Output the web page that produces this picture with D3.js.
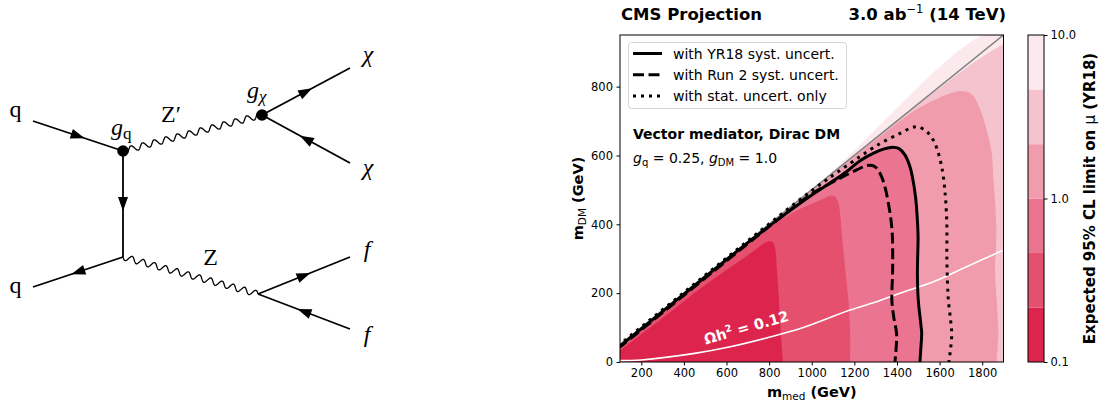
<!DOCTYPE html>
<html lang="en">
<head>
<meta charset="UTF-8">
<title>Mono-Z dark matter: diagram and HL-LHC projection</title>
<script src="https://cdnjs.cloudflare.com/ajax/libs/d3/7.8.5/d3.min.js"></script>
<style>
  body { margin: 0; background: #fff; }
  svg text { font-family: "DejaVu Sans", sans-serif; }
  .feyn text { font-family: "Liberation Serif", "DejaVu Serif", serif; }
</style>
</head>
<body>
<script>
// ---------- data (GeV) ----------
const xTicks = [200, 400, 600, 800, 1000, 1200, 1400, 1600, 1800];
const yTicks = [0, 200, 400, 600, 800];
const muLevels = [0.1, 0.215, 0.464, 1, 2.15, 4.64, 10];
const bandColors = ["#dc244c", "#e4506d", "#eb7590", "#f09cad", "#f5c3cd", "#fbe9ed"];
const cbTicks = [0.1, 1, 10];

// upper/right edge of each region mu < level (walks from the diagonal down to the x axis)
const edgeMu0215 = [[90,28],[100,33],[300,128],[500,224],[700,310],[770,342],[795,350],[815,349],[828,330],[836,270],[845,190],[851,122],[860,40],[864,0],[866,-40]];
const edgeMu0464 = [[90,38],[100,42],[400,191],[700,343],[820,398],[930,440],[1040,470],[1090,483],[1112,479],[1126,460],[1135,420],[1141,374],[1156,277],[1172,180],[1180,84],[1180,0],[1180,-40]];
const edgeMu215 = [[90,43],[100,47],[800,397],[1200,595],[1414,700],[1500,737],[1571,760],[1640,778],[1704,787],[1751,778],[1790,734],[1821,674],[1845,606],[1852,538],[1860,470],[1866,400],[1865,330],[1860,277],[1864,220],[1868,180],[1876,83],[1872,40],[1868,0],[1868,-40]];
const edgeMu464 = [[90,44],[100,48.5],[1000,498],[1400,697],[1600,796],[1750,866],[1900,924],[1920,930],[1920,-40]];
const edgeMu10 = [[90,46],[1000,501],[1920,961],[1920,-40]];

// expected mu = 1 contours
const yr18Line = [[90,43],[100,47],[400,197],[700,347],[850,418],[1007,488],[1148,546],[1227,585],[1288,606],[1340,619],[1380,624],[1410,620],[1438,601],[1461,567],[1475,529],[1487,480],[1495,420],[1499,364],[1497,300],[1496,250],[1500,180],[1512,110],[1516,84],[1512,40],[1508,0],[1507,-40]];
const run2Line = [[90,40],[100,44],[400,194],[700,344],[850,418],[1000,488],[1133,534],[1211,558],[1260,571],[1285,571],[1305,563],[1328,538],[1345,505],[1360,460],[1372,412],[1378,370],[1380,300],[1379,250],[1376,180],[1385,130],[1398,83],[1396,40],[1391,0],[1390,-40]];
const statLine = [[90,47],[100,52],[400,202],[700,352],[1000,498],[1180,577],[1270,615],[1336,640],[1414,664],[1470,681],[1500,683],[1540,669],[1570,645],[1587,621],[1610,567],[1626,490],[1634,400],[1634,300],[1638,220],[1641,180],[1652,120],[1657,83],[1652,40],[1644,0],[1643,-40]];

const relicLine = [[100,4],[200,6],[450,25],[600,42],[800,72],[950,98],[1180,151],[1300,174],[1414,200],[1571,233],[1727,277],[1900,325]];
const diagonal = [[100,50],[1900,950]];

// ---------- layout ----------
const W = 1102, H = 403;
const P = { left: 620, right: 1003.5, top: 35, bottom: 362 };

const svg = d3.select("body").append("svg")
  .attr("width", W).attr("height", H)
  .attr("viewBox", [0, 0, W, H]);

// ===== Feynman diagram =====
const fd = {
  qIn: [33, 121], v1: [123, 151], v3: [123, 257], qOut: [33, 287],
  v2: [262, 115], chiOut: [350, 68], chiIn: [350, 163],
  v4: [258, 294], fOut: [350, 257], fIn: [350, 329]
};
// fermion lines: [from, to] in the direction of the arrow
const fermions = [
  [fd.qIn, fd.v1], [fd.v1, fd.v3], [fd.v3, fd.qOut],
  [fd.v2, fd.chiOut], [fd.chiIn, fd.v2],
  [fd.v4, fd.fOut], [fd.fIn, fd.v4]
];
const bosons = [[fd.v1, fd.v2], [fd.v3, fd.v4]];

const feyn = svg.append("g").attr("class", "feyn");

feyn.selectAll("line.ferm").data(fermions).join("line")
  .attr("class", "ferm")
  .attr("x1", d => d[0][0]).attr("y1", d => d[0][1])
  .attr("x2", d => d[1][0]).attr("y2", d => d[1][1])
  .attr("stroke", "#000").attr("stroke-width", 1.8);

feyn.selectAll("path.arrow").data(fermions).join("path")
  .attr("class", "arrow")
  .attr("transform", d => {
    const mx = (d[0][0] + d[1][0]) / 2, my = (d[0][1] + d[1][1]) / 2;
    const ang = Math.atan2(d[1][1] - d[0][1], d[1][0] - d[0][0]) * 180 / Math.PI;
    return `translate(${mx},${my}) rotate(${ang})`;
  })
  .attr("d", "M7,0L-7,-5L-7,5Z")
  .attr("fill", "#000");

function wavy(p0, p1, wl, amp) {
  const dx = p1[0] - p0[0], dy = p1[1] - p0[1], L = Math.hypot(dx, dy);
  const n = Math.round(L / wl), nx = -dy / L, ny = dx / L;
  const pts = d3.range(0, n * 20 + 1).map(i => {
    const t = i / (n * 20), s = Math.sin(t * n * 2 * Math.PI) * amp;
    return [p0[0] + dx * t + nx * s, p0[1] + dy * t + ny * s];
  });
  return d3.line()(pts);
}
feyn.selectAll("path.boson").data(bosons).join("path")
  .attr("class", "boson")
  .attr("d", d => wavy(d[0], d[1], 12, 3))
  .attr("fill", "none").attr("stroke", "#000").attr("stroke-width", 1.3);

feyn.selectAll("circle").data([fd.v1, fd.v2]).join("circle")
  .attr("cx", d => d[0]).attr("cy", d => d[1]).attr("r", 5.8).attr("fill", "#000");

const feynLabels = [
  { t: "q", x: 15.5, y: 117, it: false },
  { t: "q", x: 15.5, y: 293, it: false },
  { t: "Z\u2032", x: 171, y: 122, it: false },
  { t: "Z", x: 210.5, y: 265, it: false },
  { t: "\u03c7", x: 368, y: 62, it: true },
  { t: "\u03c7", x: 368, y: 175, it: true },
  { t: "f", x: 367, y: 257, it: true },
  { t: "f", x: 367, y: 342, it: true }
];
feyn.selectAll("text.lab").data(feynLabels).join("text")
  .attr("class", "lab")
  .attr("x", d => d.x).attr("y", d => d.y)
  .attr("text-anchor", "middle")
  .attr("font-size", 24)
  .attr("font-style", d => d.it ? "italic" : "normal")
  .text(d => d.t);

const gq = feyn.append("text").attr("x", 111).attr("y", 135).attr("font-size", 24);
gq.append("tspan").attr("font-style", "italic").text("g");
gq.append("tspan").attr("font-size", 17).attr("dy", 4).text("q");
const gx = feyn.append("text").attr("x", 247).attr("y", 98).attr("font-size", 24);
gx.append("tspan").attr("font-style", "italic").text("g");
gx.append("tspan").attr("font-size", 17).attr("dy", 4).attr("font-style", "italic").text("\u03c7");

// ===== contour plot =====
const x = d3.scaleLinear().domain([100, 1900]).range([P.left, P.right]);
const y = d3.scaleLinear().domain([0, 950]).range([P.bottom, P.top]);

svg.append("clipPath").attr("id", "plotClip")
  .append("rect").attr("x", P.left).attr("y", P.top)
  .attr("width", P.right - P.left).attr("height", P.bottom - P.top);

const plot = svg.append("g").attr("clip-path", "url(#plotClip)");
const smooth = d3.line().x(d => x(d[0])).y(d => y(d[1])).curve(d3.curveCatmullRom.alpha(0.5));

function regionPath(edge) {
  const first = edge[0], last = edge[edge.length - 1];
  return smooth(edge) + `L${x(last[0])},${y(-60)}L${x(40)},${y(-60)}L${x(40)},${y(first[1])}Z`;
}

// largest region first, darker ones layered on top
const regions = [
  { edge: edgeMu10, color: bandColors[5] },
  { edge: edgeMu464, color: bandColors[4] },
  { edge: edgeMu215, color: bandColors[3] },
  { edge: yr18Line, color: bandColors[2] },
  { edge: edgeMu0464, color: bandColors[1] },
  { edge: edgeMu0215, color: bandColors[0] }
];
plot.selectAll("path.band").data(regions).join("path")
  .attr("class", "band")
  .attr("d", d => regionPath(d.edge))
  .attr("fill", d => d.color);

plot.append("path").datum(relicLine)
  .attr("d", smooth).attr("fill", "none")
  .attr("stroke", "#fff").attr("stroke-width", 1.6);

plot.append("path").datum(diagonal)
  .attr("d", smooth).attr("fill", "none")
  .attr("stroke", "#7f7f7f").attr("stroke-width", 1.5);

const limitLines = [
  { data: statLine, dash: "3,5", label: "with stat. uncert. only" },
  { data: run2Line, dash: "11,4.5", label: "with Run 2 syst. uncert." },
  { data: yr18Line, dash: null, label: "with YR18 syst. uncert." }
];
plot.selectAll("path.limit").data(limitLines).join("path")
  .attr("class", "limit")
  .attr("d", d => smooth(d.data))
  .attr("fill", "none").attr("stroke", "#000").attr("stroke-width", 3)
  .attr("stroke-dasharray", d => d.dash);

// relic label
svg.append("text")
  .attr("transform", `translate(${x(700)},${y(86)}) rotate(-16)`)
  .attr("text-anchor", "middle")
  .attr("font-size", 14.5).attr("font-weight", "bold").attr("fill", "#fff")
  .call(t => {
    t.append("tspan").text("\u03a9h");
    t.append("tspan").attr("font-size", 9.5).attr("dy", -6).text("2");
    t.append("tspan").attr("dy", 6).text(" = 0.12");
  });

// frame
svg.append("rect")
  .attr("x", P.left).attr("y", P.top)
  .attr("width", P.right - P.left).attr("height", P.bottom - P.top)
  .attr("fill", "none").attr("stroke", "#000").attr("stroke-width", 1);

// axes
const xAxis = svg.append("g").attr("transform", `translate(0,${P.bottom})`)
  .call(d3.axisBottom(x).tickValues(xTicks).tickFormat(d3.format("d")).tickSize(3.5).tickPadding(3.5));
const yAxis = svg.append("g").attr("transform", `translate(${P.left},0)`)
  .call(d3.axisLeft(y).tickValues(yTicks).tickFormat(d3.format("d")).tickSize(3.5).tickPadding(3.5));
[xAxis, yAxis].forEach(a => {
  a.select(".domain").remove();
  a.selectAll("text").attr("font-size", 11.5).attr("font-family", "DejaVu Sans").attr("fill", "#000");
});

// axis titles
svg.append("text")
  .attr("x", (P.left + P.right) / 2).attr("y", 397)
  .attr("text-anchor", "middle").attr("font-size", 14.5).attr("font-weight", "bold")
  .call(t => {
    t.append("tspan").text("m");
    t.append("tspan").attr("font-size", 10.5).attr("font-weight", "normal").attr("dy", 3).text("med");
    t.append("tspan").attr("dy", -3).text(" (GeV)");
  });
svg.append("text")
  .attr("transform", `translate(583,${(P.top + P.bottom) / 2}) rotate(-90)`)
  .attr("text-anchor", "middle").attr("font-size", 14.5).attr("font-weight", "bold")
  .call(t => {
    t.append("tspan").text("m");
    t.append("tspan").attr("font-size", 10.5).attr("font-weight", "normal").attr("dy", 3).text("DM");
    t.append("tspan").attr("dy", -3).text(" (GeV)");
  });

// titles
svg.append("text").attr("x", 621).attr("y", 19.5)
  .attr("font-size", 16.5).attr("font-weight", "bold").text("CMS Projection");
svg.append("text").attr("x", 1006).attr("y", 19.5)
  .attr("text-anchor", "end").attr("font-size", 16.5).attr("font-weight", "bold")
  .call(t => {
    t.append("tspan").text("3.0 ab");
    t.append("tspan").attr("font-size", 11.5).attr("font-weight", "normal").attr("dy", -7).text("\u22121");
    t.append("tspan").attr("dy", 7).text(" (14 TeV)");
  });

// model text
svg.append("text").attr("x", 633).attr("y", 138.5)
  .attr("font-size", 14).attr("font-weight", "bold").text("Vector mediator, Dirac DM");
svg.append("text").attr("x", 633).attr("y", 162.5).attr("font-size", 14)
  .call(t => {
    t.append("tspan").attr("font-style", "italic").text("g");
    t.append("tspan").attr("font-size", 10).attr("dy", 3).text("q");
    t.append("tspan").attr("dy", -3).text(" = 0.25, ");
    t.append("tspan").attr("font-style", "italic").text("g");
    t.append("tspan").attr("font-size", 10).attr("dy", 3).text("DM");
    t.append("tspan").attr("dy", -3).text(" = 1.0");
  });

// legend
const lg = svg.append("g");
lg.append("rect").attr("x", 628.5).attr("y", 42.5).attr("width", 218).attr("height", 66)
  .attr("rx", 3).attr("fill", "#fff").attr("fill-opacity", 0.8)
  .attr("stroke", "#d4d4d4").attr("stroke-width", 1);
const legRows = [limitLines[2], limitLines[1], limitLines[0]];
legRows.forEach((d, i) => {
  const cy = 53.5 + i * 21.2;
  lg.append("line").attr("x1", 633).attr("x2", 662).attr("y1", cy).attr("y2", cy)
    .attr("stroke", "#000").attr("stroke-width", 3).attr("stroke-dasharray", d.dash);
  lg.append("text").attr("x", 673).attr("y", cy + 5).attr("font-size", 14).text(d.label);
});

// colorbar
const cb = { x: 1028, w: 16 };
const cbY = d3.scaleLog().domain([0.1, 10]).range([P.bottom, P.top]);
const bands = d3.range(muLevels.length - 1).map(i => ({ lo: muLevels[i], hi: muLevels[i + 1], color: bandColors[i] }));
svg.append("g").selectAll("rect").data(bands).join("rect")
  .attr("x", cb.x).attr("width", cb.w)
  .attr("y", d => cbY(d.hi)).attr("height", d => cbY(d.lo) - cbY(d.hi))
  .attr("fill", d => d.color);
svg.append("rect").attr("x", cb.x).attr("y", P.top).attr("width", cb.w).attr("height", P.bottom - P.top)
  .attr("fill", "none").attr("stroke", "#000").attr("stroke-width", 1);
const cbAxis = svg.append("g").attr("transform", `translate(${cb.x + cb.w},0)`)
  .call(d3.axisRight(cbY).tickValues(cbTicks).tickFormat(d3.format(".1f")).tickSize(3.5).tickPadding(3));
cbAxis.select(".domain").remove();
cbAxis.selectAll("text").attr("font-size", 11.5).attr("font-family", "DejaVu Sans").attr("fill", "#000");

svg.append("text")
  .attr("transform", `translate(1095,${(P.top + P.bottom) / 2}) rotate(-90)`)
  .attr("text-anchor", "middle").attr("font-size", 15).attr("font-weight", "bold")
  .call(t => {
    t.append("tspan").text("Expected 95% CL limit on ");
    t.append("tspan").attr("font-weight", "normal").text("\u03bc");
    t.append("tspan").text(" (YR18)");
  });
</script>
</body>
</html>
